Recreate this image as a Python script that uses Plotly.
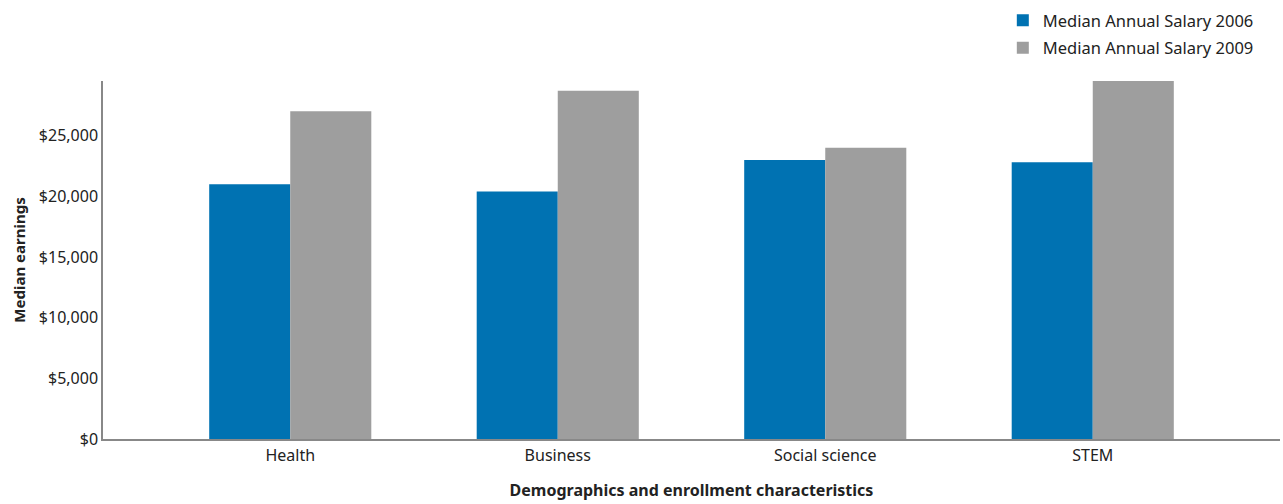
import plotly.graph_objects as go

categories = ["Health", "Business", "Social science", "STEM"]
salary_2006 = [21000, 20400, 23000, 22800]
salary_2009 = [27000, 28700, 24000, 29500]
series_names = ["Median Annual Salary 2006", "Median Annual Salary 2009"]
tick_values = [0, 5000, 10000, 15000, 20000, 25000]
tick_labels = ["$0", "$5,000", "$10,000", "$15,000", "$20,000", "$25,000"]

FONT = "Noto Sans"

fig = go.Figure()
fig.add_trace(go.Bar(x=categories, y=salary_2006, name=series_names[0],
                     marker=dict(color="#0072b2", line=dict(width=0)),
                     legendgroup="a"))
fig.add_trace(go.Bar(x=categories, y=salary_2009, name=series_names[1],
                     marker=dict(color="#9e9e9e", line=dict(width=0)),
                     legendgroup="b"))

fig.update_layout(
    width=1283, height=504,
    margin=dict(l=103, r=3, t=81, b=65),
    paper_bgcolor="white", plot_bgcolor="white",
    barmode="group", bargap=0.394, bargroupgap=0,
    font=dict(family=FONT, size=16, color="#222"),
    showlegend=True,
    legend=dict(x=0.982, xanchor="right", y=1.218, yanchor="top",
                xref="paper", yref="paper",
                orientation="v", traceorder="grouped", tracegroupgap=3,
                font=dict(family=FONT, size=16.5, color="#222"),
                itemwidth=30, bgcolor="rgba(0,0,0,0)"),
    xaxis=dict(range=[-0.7, 3.7], showline=True, linecolor="#888", linewidth=1.5,
               showgrid=False, ticks="", tickfont=dict(size=16),
               ticklabelstandoff=1,
               title=dict(text="<b>Demographics and enrollment characteristics</b>",
                          font=dict(size=16), standoff=20)),
    yaxis=dict(range=[0, 29500], showline=True, linecolor="#888", linewidth=1.5,
               showgrid=False, zeroline=False, ticks="",
               tickvals=tick_values, ticktext=tick_labels, tickfont=dict(size=16),
               title=dict(text="<b>Median earnings</b>", font=dict(size=15), standoff=10)),
)

fig.write_html("out.html")
